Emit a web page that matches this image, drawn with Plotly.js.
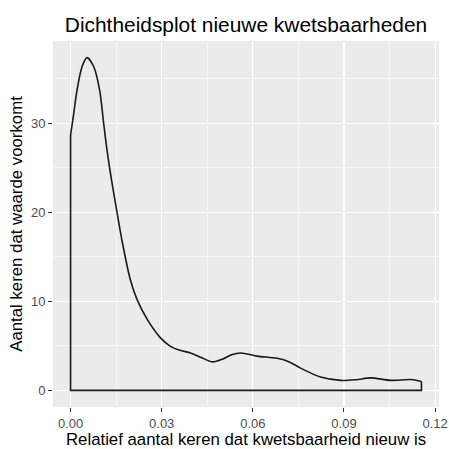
<!DOCTYPE html>
<html>
<head>
<meta charset="utf-8">
<script src="https://cdn.plot.ly/plotly-3.0.1.min.js"></script>
<style>html,body{margin:0;padding:0;background:#fff;}#chart{width:449px;height:449px;}</style>
</head>
<body>
<div id="chart"></div>
<script>
// Density curve values
const densityX = [0.0000, 0.0010, 0.0021, 0.0038, 0.0054, 0.0076, 0.0096, 0.0109, 0.0120, 0.0135,
                  0.0148, 0.0169, 0.0197, 0.0219, 0.0252, 0.0296, 0.0329, 0.0360, 0.0395, 0.0430,
                  0.0466, 0.0500, 0.0530, 0.0560, 0.0615, 0.0680, 0.0720, 0.0757, 0.0823, 0.0889,
                  0.0940, 0.0988, 0.1054, 0.1120, 0.1155];
const densityY = [28.7, 31.0, 33.7, 36.4, 37.4, 36.4, 33.7, 30.0, 27.0, 23.6,
                  21.0, 16.9, 12.4, 10.2, 8.0, 5.9, 4.95, 4.5, 4.2, 3.7,
                  3.2, 3.5, 4.0, 4.2, 3.85, 3.6, 3.2, 2.5, 1.5, 1.12,
                  1.2, 1.4, 1.12, 1.22, 1.0];
const xTickVals = [0, 0.03, 0.06, 0.09, 0.12];
const xTickText = ["0.00", "0.03", "0.06", "0.09", "0.12"];
const yTickVals = [0, 10, 20, 30];
const yTickText = ["0", "10", "20", "30"];
const baseY = 0;

const n = densityX.length;
const curve = {
  x: densityX, y: densityY, type: 'scatter', mode: 'lines',
  line: {color: '#1a1a1a', width: 1.6, shape: 'spline', smoothing: 0.8},
  hoverinfo: 'skip', showlegend: false
};
const outline = {
  x: [densityX[0], densityX[0], densityX[n-1], densityX[n-1]],
  y: [densityY[0], baseY, baseY, densityY[n-1]],
  type: 'scatter', mode: 'lines',
  line: {color: '#1a1a1a', width: 1.6},
  hoverinfo: 'skip', showlegend: false
};

const font = 'Liberation Sans, Arial, sans-serif';
const layout = {
  width: 449, height: 449,
  margin: {l: 53, r: 10, t: 41, b: 42, pad: 0},
  paper_bgcolor: '#ffffff', plot_bgcolor: '#EBEBEB',
  font: {family: font, color: '#000'},
  title: {text: 'Dichtheidsplot nieuwe kwetsbaarheden', font: {size: 20.9, color: '#000', family: font},
          xref: 'paper', x: 0.5, xanchor: 'center', yref: 'container', y: 1 - 25/449, yanchor: 'middle'},
  xaxis: {
    range: [-0.00578, 0.12128], tickvals: xTickVals, ticktext: xTickText,
    showgrid: true, gridcolor: '#ffffff', gridwidth: 1.2, zeroline: false, showline: false,
    ticks: 'outside', ticklen: 4, tickwidth: 1, tickcolor: '#333333',
    tickfont: {size: 13, color: '#4D4D4D', family: font},
    minor: {tickvals: [0.015, 0.045, 0.075, 0.105], showgrid: true, gridcolor: '#ffffff', gridwidth: 0.6, ticks: ''},
    title: {text: 'Relatief aantal keren dat kwetsbaarheid nieuw is', font: {size: 16.8, color: '#000', family: font}, standoff: 4},
    automargin: false, fixedrange: true
  },
  yaxis: {
    range: [-1.87, 39.27], tickvals: yTickVals, ticktext: yTickText,
    showgrid: true, gridcolor: '#ffffff', gridwidth: 1.2, zeroline: false, showline: false,
    ticks: 'outside', ticklen: 4, tickwidth: 1, tickcolor: '#333333',
    tickfont: {size: 13, color: '#4D4D4D', family: font},
    minor: {tickvals: [5, 15, 25, 35], showgrid: true, gridcolor: '#ffffff', gridwidth: 0.6, ticks: ''},
    title: {text: 'Aantal keren dat waarde voorkomt', font: {size: 16.8, color: '#000', family: font}, standoff: 4},
    automargin: false, fixedrange: true
  }
};
Plotly.newPlot('chart', [curve, outline], layout, {displayModeBar: false, staticPlot: true});
</script>
</body>
</html>
